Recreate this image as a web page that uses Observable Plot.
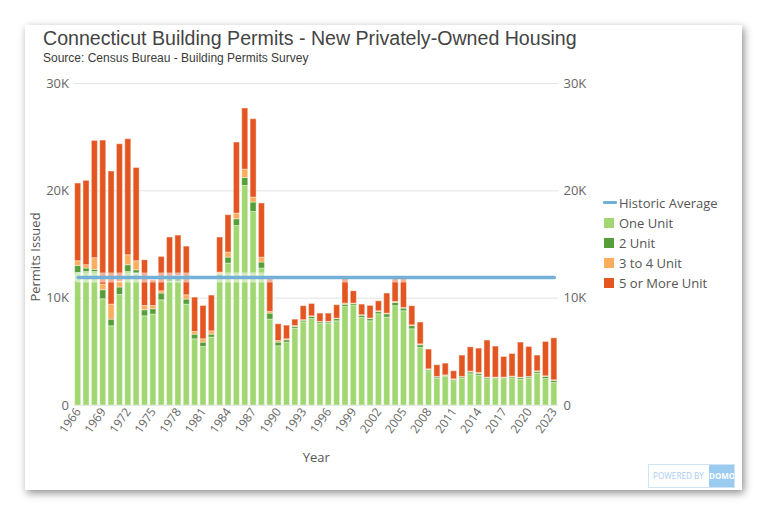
<!DOCTYPE html>
<html><head><meta charset="utf-8">
<script src="https://cdn.jsdelivr.net/npm/d3@7"></script>
<script src="https://cdn.jsdelivr.net/npm/@observablehq/plot@0.6"></script>
<style>
html,body{margin:0;padding:0;background:#fff;width:767px;height:515px;overflow:hidden;}
#card{position:absolute;left:25px;top:25px;width:717px;height:465px;background:#fff;box-shadow:2px 3px 8px rgba(0,0,0,0.45);}
#title{position:absolute;left:43px;top:28px;font-family:"Liberation Sans",Arial,sans-serif;font-size:19.6px;line-height:20px;color:#444;white-space:nowrap;}
#subtitle{position:absolute;left:43px;top:52px;font-family:"Liberation Sans",Arial,sans-serif;font-size:12px;line-height:12px;color:#3a3a3a;white-space:nowrap;}
#chart{position:absolute;left:0;top:0;}
#ylabel{position:absolute;left:35px;top:257px;transform:translate(-50%,-50%) rotate(-90deg);font-family:"Open Sans",sans-serif;font-size:13px;color:#555;white-space:nowrap;}
#legend{position:absolute;left:603px;top:193px;font-family:"Open Sans",sans-serif;font-size:13px;color:#555;}
.row{position:absolute;left:0;height:20px;line-height:20px;white-space:nowrap;}
.sw{position:absolute;left:1px;top:5px;width:10px;height:10px;}
.ln{position:absolute;left:0;top:8px;width:14px;height:3px;background:#73B0D7;border-radius:1px;}
.lt{position:absolute;left:16px;top:0;}
#badge{position:absolute;left:648px;top:464px;width:87px;height:24px;border:1px solid #cfe4f5;box-sizing:border-box;font-family:"Open Sans",sans-serif;overflow:hidden;}
#badge .p{position:absolute;left:4px;top:0;line-height:22px;font-size:8.2px;color:#a9cdee;white-space:nowrap;}
#badge .d{position:absolute;right:0;top:0;width:25px;height:22px;background:#9ccbf0;color:#fff;font-size:8px;font-weight:bold;line-height:22px;text-align:center;}
</style></head>
<body>
<div id="card"></div>
<div id="title">Connecticut Building Permits - New Privately-Owned Housing</div>
<div id="subtitle">Source: Census Bureau - Building Permits Survey</div>
<div id="chart"></div>
<div id="ylabel">Permits Issued</div>
<div id="legend"></div>
<div id="badge"><span class="p">POWERED BY</span><span class="d">DOMO</span></div>
<script>
const years = [1966,1967,1968,1969,1970,1971,1972,1973,1974,1975,1976,1977,1978,1979,1980,1981,1982,1983,1984,1985,1986,1987,1988,1989,1990,1991,1992,1993,1994,1995,1996,1997,1998,1999,2000,2001,2002,2003,2004,2005,2006,2007,2008,2009,2010,2011,2012,2013,2014,2015,2016,2017,2018,2019,2020,2021,2022,2023];
const oneUnit = [12350,12440,12440,9900,7380,10300,12440,12300,8310,8470,9800,11500,11500,9400,6170,5450,6330,11800,13220,16730,20460,18030,12760,8000,5520,5860,7160,7750,8060,7600,7630,7850,9180,9310,8160,7850,8500,8190,9250,8780,7100,5360,3190,2500,2660,2260,2500,2910,2780,2440,2460,2460,2530,2400,2500,2970,2470,2100];
const twoUnit = [650,320,200,840,620,690,630,300,560,500,630,300,350,470,430,410,270,400,560,620,740,880,560,560,340,220,160,150,200,150,120,200,200,150,200,200,200,300,300,250,300,250,120,120,100,120,120,170,170,120,100,100,120,150,120,170,200,200];
const threeToFour = [440,310,1090,530,1400,520,930,840,400,300,210,200,200,400,250,310,310,180,470,530,780,460,460,160,150,90,90,50,50,40,40,50,120,40,50,50,80,70,100,60,70,90,60,40,50,60,40,80,80,40,40,40,40,50,40,50,50,50];
const fivePlus = [7240,7860,10920,13410,12400,12830,10810,8690,4260,2400,3200,3650,3780,4530,3200,3100,3330,3270,3480,6620,5690,7300,5040,3080,1560,1270,590,1300,1150,770,770,1240,2350,1140,990,1180,930,1870,2200,2710,1780,2030,1840,1090,1090,750,1990,2260,2270,3450,2890,1920,2110,3260,2790,1460,3200,3910];
const historicAverage = 11920;
const seriesNames = ["One Unit","2 Unit","3 to 4 Unit","5 or More Unit"];
const seriesColors = ["#A0D771","#559E38","#FBAD5B","#E45621"];
const lineName = "Historic Average";
const lineColor = "#73B0D7";
const yTicks = [0,10000,20000,30000];
const xTickYears = [1966,1969,1972,1975,1978,1981,1984,1987,1990,1993,1996,1999,2002,2005,2008,2011,2014,2017,2020,2023];

const seriesValues = [oneUnit, twoUnit, threeToFour, fivePlus];
const rows = [];
years.forEach((yr, i) => {
  seriesNames.forEach((s, k) => rows.push({year: yr, series: s, value: seriesValues[k][i]}));
});
const avgRows = years.map(yr => ({year: yr, value: historicAverage}));
const fmt = d => d === 0 ? "0" : (d/1000) + "K";

const chart = Plot.plot({
  width: 767, height: 515,
  marginLeft: 73.5, marginRight: 209, marginTop: 83, marginBottom: 110,
  style: {background: "transparent", fontFamily: "'Open Sans', sans-serif", fontSize: "12px", color: "#666", overflow: "visible"},
  x: {type: "band", domain: years, paddingInner: 0.28, paddingOuter: 0.14, round: false},
  y: {domain: [0, 30000]},
  color: {domain: seriesNames, range: seriesColors},
  marks: [
    Plot.gridY(yTicks, {stroke: "#e2e2e2", strokeOpacity: 1, strokeWidth: 1}),
    Plot.barY(rows, {x: "year", y: "value", fill: "series", stroke: "#fff", strokeOpacity: 0.4, strokeWidth: 1}),
    Plot.lineY(avgRows, {x: "year", y: "value", stroke: "#fff", strokeWidth: 10, strokeOpacity: 0.55}),
    Plot.lineY(avgRows, {x: "year", y: "value", stroke: lineColor, strokeWidth: 3.5, strokeLinecap: "round"}),
    Plot.axisY({ticks: yTicks, tickFormat: fmt, anchor: "left", tickSize: 0, tickPadding: 5, label: null, fontSize: 13}),
    Plot.axisY({ticks: yTicks, tickFormat: fmt, anchor: "right", tickSize: 0, tickPadding: 5, label: null, fontSize: 13}),
    Plot.axisX({ticks: xTickYears, tickFormat: d => String(d), tickSize: 0, tickPadding: 4, tickRotate: -55, label: null, fontSize: 12}),
    Plot.text(["Year"], {frameAnchor: "bottom", dy: 56, text: d => d, fill: "#555", fontSize: 13})
  ]
});
document.getElementById("chart").appendChild(chart);

const legend = document.getElementById("legend");
const items = [{name: lineName, line: true, color: lineColor}].concat(seriesNames.map((n, k) => ({name: n, color: seriesColors[k]})));
items.forEach((it, i) => {
  const r = document.createElement("div");
  r.className = "row";
  r.style.top = (i * 19.9) + "px";
  const s = document.createElement("div");
  s.className = it.line ? "ln" : "sw";
  s.style.background = it.color;
  const t = document.createElement("div");
  t.className = "lt";
  t.textContent = it.name;
  r.appendChild(s); r.appendChild(t);
  legend.appendChild(r);
});
</script>
</body></html>
